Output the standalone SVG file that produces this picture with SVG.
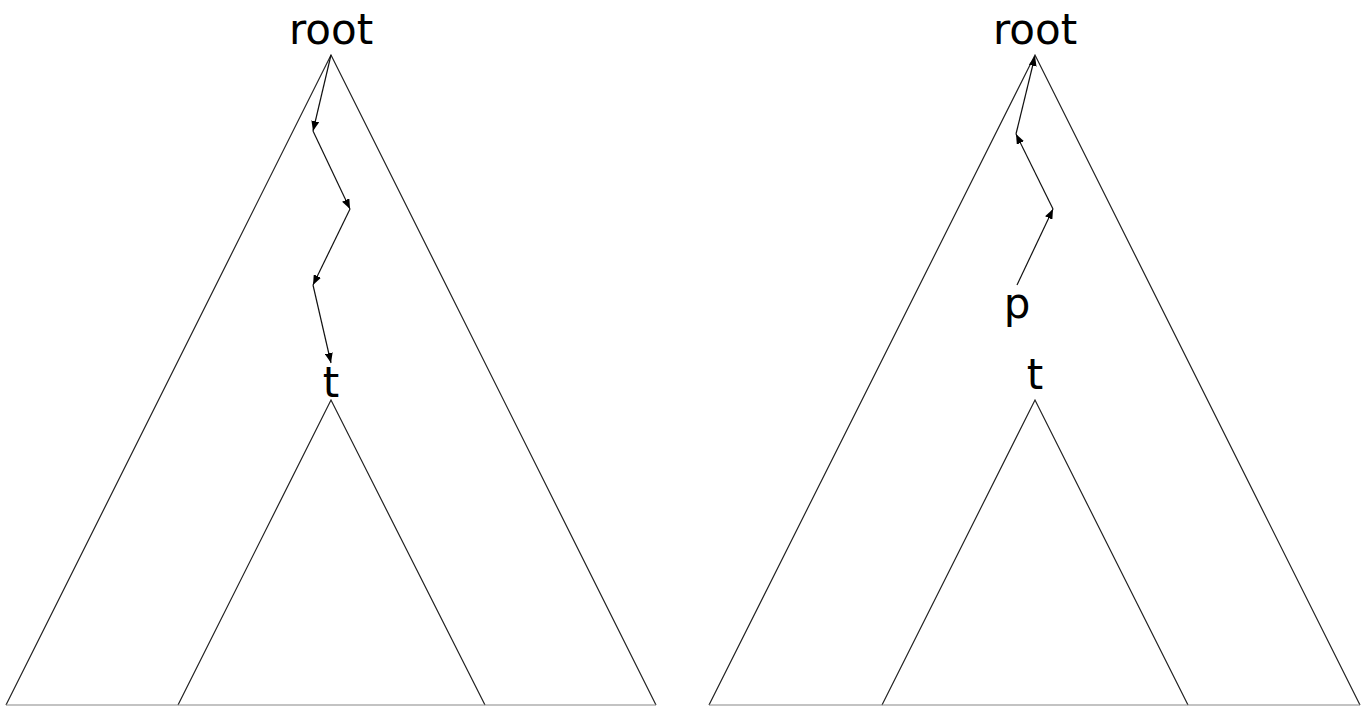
<svg xmlns="http://www.w3.org/2000/svg" width="1368" height="706" viewBox="0 0 1368 706">
<style>
.tri{fill:none;stroke:#222;stroke-width:1.2}
.base{stroke:#888;stroke-width:1.2}
.arr{fill:none;stroke:#111;stroke-width:1.2;marker-end:url(#ah)}
.lbl{font-family:"DejaVu Sans",sans-serif;font-size:42px;fill:#000;text-anchor:middle}
</style>
<defs>
<marker id="ah" viewBox="0 0 10 8" refX="10" refY="4" markerWidth="10" markerHeight="8" markerUnits="userSpaceOnUse" orient="auto">
<path d="M0,0 L10,4 L0,8 Z" fill="#000"/>
</marker>
</defs>
<rect width="1368" height="706" fill="#fff"/>
<g id="left-tree">
<polyline class="tri" points="6,705 331,55 656,705"/>
<text class="lbl" x="331" y="44">root</text>
</g>
<g id="left-subtree">
<polyline class="tri" points="178,705 331,400 485,705"/>
<text class="lbl" x="331" y="397">t</text>
</g>
<g id="right-tree">
<polyline class="tri" points="709,705 1035,55 1360,705"/>
<text class="lbl" x="1035" y="44">root</text>
</g>
<g id="right-subtree">
<polyline class="tri" points="882,705 1035,400 1188,705"/>
<text class="lbl" x="1035" y="389">t</text>
</g>
<g id="node-p">
<text class="lbl" x="1017" y="318">p</text>
</g>
<g id="baselines">
<line class="base" x1="6" y1="705" x2="656" y2="705"/>
<line class="base" x1="709" y1="705" x2="1360" y2="705"/>
</g>
<g id="connectors">
<line class="arr" x1="331" y1="55" x2="313" y2="131"/>
<line class="arr" x1="313" y1="131" x2="350" y2="209"/>
<line class="arr" x1="350" y1="209" x2="313" y2="285"/>
<line class="arr" x1="313" y1="285" x2="331" y2="363"/>
<line class="arr" x1="1017" y1="285" x2="1053" y2="209"/>
<line class="arr" x1="1053" y1="209" x2="1016" y2="134"/>
<line class="arr" x1="1016" y1="134" x2="1035" y2="56"/>
</g>
</svg>
